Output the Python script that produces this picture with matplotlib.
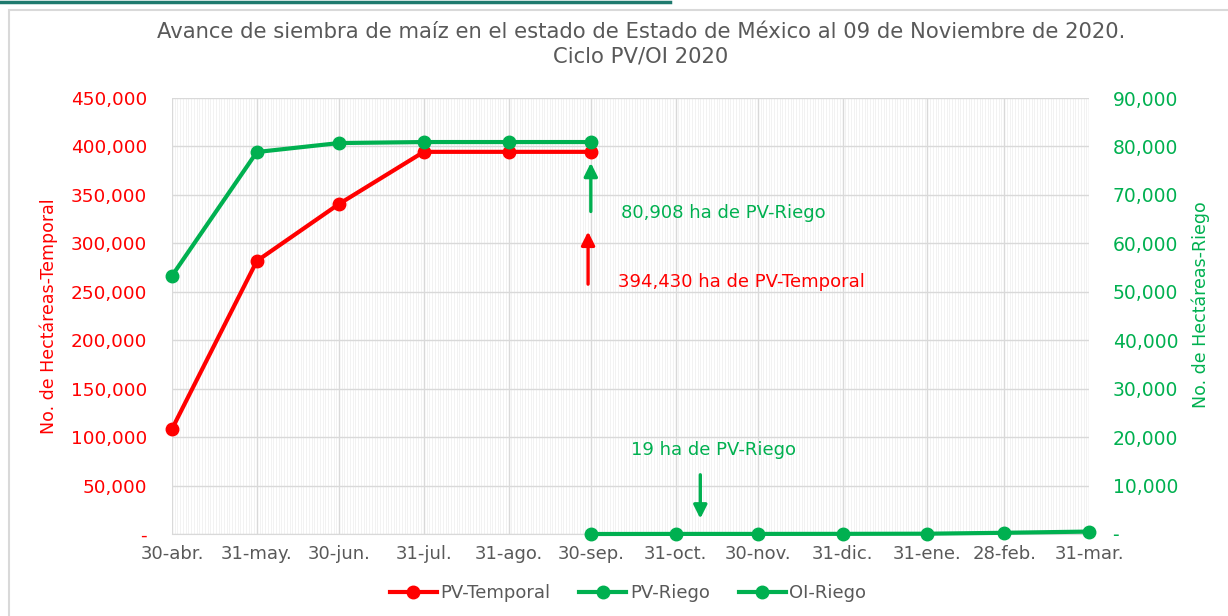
import numpy as np
import pandas as pd
import matplotlib
matplotlib.use("Agg")
import matplotlib.pyplot as plt
import matplotlib.dates as mdates
from matplotlib.ticker import FuncFormatter, MultipleLocator, FixedLocator

plt.rcParams['font.family'] = ['DejaVu Sans']

RED = '#FF0000'
GREEN = '#00B050'
GRAY = '#595959'

# data
fechas = ['2020-04-30', '2020-05-31', '2020-06-30', '2020-07-31', '2020-08-31', '2020-09-30',
          '2020-10-31', '2020-11-30', '2020-12-31', '2021-01-31', '2021-02-28', '2021-03-31']
etiquetas = ['30-abr.', '31-may.', '30-jun.', '31-jul.', '31-ago.', '30-sep.',
             '31-oct.', '30-nov.', '31-dic.', '31-ene.', '28-feb.', '31-mar.']

pv_temporal_fechas = fechas[:6]
pv_temporal = [108400, 281800, 340600, 394430, 394430, 394430]

pv_riego_fechas = fechas[:6]
pv_riego = [53300, 78850, 80700, 80908, 80908, 80908]

oi_riego_fechas = fechas[5:]
oi_riego = [0, 19, 19, 30, 60, 250, 500]

x_all = pd.to_datetime(fechas)
x_temp = pd.to_datetime(pv_temporal_fechas)
x_pvr = pd.to_datetime(pv_riego_fechas)
x_oi = pd.to_datetime(oi_riego_fechas)

fig = plt.figure(figsize=(12.28, 6.16), dpi=100)
ax = fig.add_axes([172/1228, 1-534/616, (1089-172)/1228, (534-98)/616])
ax2 = ax.twinx()

# frame decoration
fig.add_artist(plt.Line2D([0, 670/1228], [1-1.5/616, 1-1.5/616], color='#1E7A6E', lw=2.5, transform=fig.transFigure))
fig.add_artist(plt.Rectangle((9/1228, -0.01), 1.0, 1-10/616+0.01, fill=False, edgecolor='#D9D9D9', lw=1.5,
                             transform=fig.transFigure))

ax.set_xlim(x_all[0], x_all[-1])
ax.set_ylim(0, 450000)
ax2.set_ylim(0, 90000)

ax.xaxis.set_major_locator(FixedLocator(mdates.date2num(x_all)))
ax.set_xticklabels(etiquetas)
ax.xaxis.set_minor_locator(mdates.DayLocator())
ax.yaxis.set_major_locator(MultipleLocator(50000))
ax2.yaxis.set_major_locator(MultipleLocator(10000))

fmt = FuncFormatter(lambda v, p: '-' if v == 0 else f'{v:,.0f}')
ax.yaxis.set_major_formatter(fmt)
ax2.yaxis.set_major_formatter(fmt)

ax.grid(which='minor', axis='x', color='#F0F0F0', lw=0.6)
ax.grid(which='major', axis='x', color='#D9D9D9', lw=1)
ax.grid(which='major', axis='y', color='#D9D9D9', lw=1)
ax.set_axisbelow(True)

for a in (ax, ax2):
    for s in a.spines.values():
        s.set_visible(False)
ax.spines['bottom'].set_visible(True)
ax.spines['bottom'].set_color('#D9D9D9')

ax.tick_params(axis='x', which='both', length=0, pad=8, labelsize=13, labelcolor=GRAY)
ax.tick_params(axis='y', length=0, pad=18, labelsize=13.3, labelcolor=RED)
ax2.tick_params(axis='y', length=0, pad=17, labelsize=13.5, labelcolor=GREEN)

ax.set_ylabel('No. de Hectáreas-Temporal', color=RED, fontsize=12.5, labelpad=9)
ax2.set_ylabel('No. de Hectáreas-Riego', color=GREEN, fontsize=12.5, labelpad=8)
ax2.yaxis.set_label_coords((1192 - 172) / (1089 - 172), (534 - 305) / 436)

l1, = ax.plot(x_temp, pv_temporal, color=RED, lw=3, marker='o', ms=9, label='PV-Temporal', zorder=4)
l2, = ax2.plot(x_pvr, pv_riego, color=GREEN, lw=3, marker='o', ms=9, label='PV-Riego', zorder=4)
l3, = ax2.plot(x_oi, oi_riego, color=GREEN, lw=3, marker='o', ms=9, label='OI-Riego', zorder=4, clip_on=False)
l2.set_clip_on(False)
l1.set_clip_on(False)

# annotations
sep30 = pd.Timestamp('2020-09-30')
ax.annotate('', xy=(sep30, 386000), xytext=(sep30, 330000),
            arrowprops=dict(arrowstyle='-|>', color=GREEN, lw=2.4, mutation_scale=20))
ax.text(pd.Timestamp('2020-10-11'), 331500, '80,908 ha de PV-Riego', color=GREEN, fontsize=13,
        va='center', ha='left')
ax.annotate('', xy=(sep30 - pd.Timedelta(days=1), 315000), xytext=(sep30 - pd.Timedelta(days=1), 255000),
            arrowprops=dict(arrowstyle='-|>', color=RED, lw=2.4, mutation_scale=20))
ax.text(pd.Timestamp('2020-10-10'), 260000, '394,430 ha de PV-Temporal', color=RED, fontsize=13,
        va='center', ha='left')
nov9 = pd.Timestamp('2020-11-09')
ax.annotate('', xy=(nov9, 13000), xytext=(nov9, 64000),
            arrowprops=dict(arrowstyle='-|>', color=GREEN, lw=2.4, mutation_scale=20))
ax.text(pd.Timestamp('2020-11-14'), 87000, '19 ha de PV-Riego', color=GREEN, fontsize=13,
        va='center', ha='center')

fig.text(641/1228, 1-44/616, 'Avance de siembra de maíz en el estado de Estado de México al 09 de Noviembre de 2020.\nCiclo PV/OI 2020',
         ha='center', va='center', fontsize=15.2, color=GRAY, linespacing=1.25)

fig.legend(handles=[l1, l2, l3], loc='center', bbox_to_anchor=(628/1228, 1-593/616), ncol=3, frameon=False,
           fontsize=13, labelcolor=GRAY, handlelength=2.6, columnspacing=1.6, handletextpad=0.2)

fig.savefig('out.png', dpi=100)
